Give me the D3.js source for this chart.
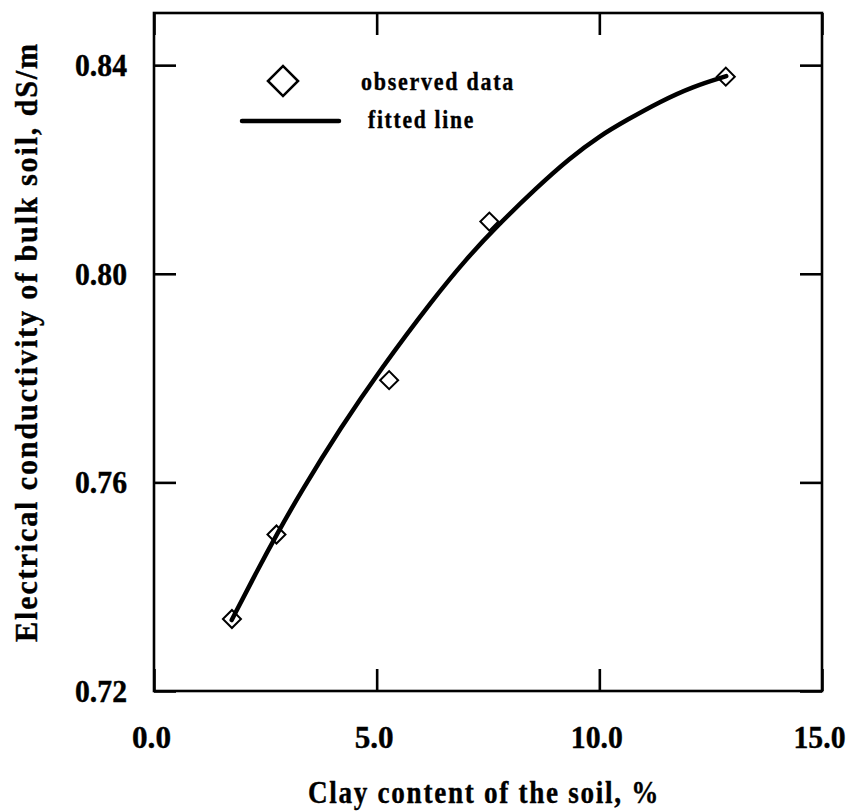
<!DOCTYPE html>
<html>
<head>
<meta charset="utf-8">
<script src="https://cdn.jsdelivr.net/npm/d3@7"></script>
<style>
  body { margin: 0; background: #fff; }
  svg { display: block; }
  text { font-family: "Liberation Serif", "Times New Roman", serif; font-weight: bold; fill: #000; stroke: #000; stroke-width: 0.4px; }
</style>
</head>
<body>
<svg id="chart" width="850" height="811"></svg>
<script>
// observed points
const clayObs = [1.75, 2.75, 5.28, 7.53, 12.84];
const ecObs = [0.7338, 0.75, 0.7796, 0.81, 0.8378];

// fitted curve
const clayFit = [1.745, 2.3, 2.755, 3.3, 4.2, 5.08, 6.27, 7.03, 7.66, 8.6, 9.34, 10.0, 10.62, 11.36, 12.1, 12.85];
const ecFit = [0.7336, 0.7428, 0.75, 0.7582, 0.7706, 0.7816, 0.7952, 0.803, 0.8088, 0.8166, 0.8222, 0.8264, 0.8295, 0.833, 0.8359, 0.8379];

const xTicks = [0, 5, 10, 15];
const yTicks = [0.72, 0.76, 0.8, 0.84];
const xTitle = "Clay content of the soil, %";
const yTitle = "Electrical conductivity of bulk soil, dS/m";
const legendLabels = ["observed data", "fitted line"];

let plotLeft = 154, plotRight = 822, plotTop = 13, plotBottom = 691;
let tickLen = 22;

const svg = d3.select("#chart");

const x = d3.scaleLinear().domain([0, 15]).range([plotLeft, plotRight]);
const y = d3.scaleLinear().domain([0.72, 0.85]).range([plotBottom, plotTop]);

// frame
svg.append("rect")
  .attr("x", plotLeft).attr("y", plotTop)
  .attr("width", plotRight - plotLeft).attr("height", plotBottom - plotTop)
  .attr("fill", "none").attr("stroke", "#000").attr("stroke-width", 2.6);

/* axes, ticks pointing inward */
const xAxis = d3.axisBottom(x).tickValues(xTicks).tickFormat(d3.format(".1f"))
  .tickSize(-tickLen).tickPadding(34);
const gx = svg.append("g").attr("transform", `translate(0,${plotBottom})`).call(xAxis);

const yAxis = d3.axisLeft(y).tickValues(yTicks).tickFormat(d3.format(".2f"))
  .tickSize(-tickLen).tickPadding(27);
svg.append("g").attr("transform", `translate(${plotLeft},0)`).call(yAxis);

svg.append("g").attr("transform", `translate(0,${plotTop})`)
  .call(d3.axisTop(x).tickValues(xTicks).tickSize(-tickLen).tickFormat(""));
svg.append("g").attr("transform", `translate(${plotRight},0)`)
  .call(d3.axisRight(y).tickValues(yTicks).tickSize(-tickLen).tickFormat(""));

svg.selectAll(".domain").remove();
svg.selectAll(".tick line").attr("stroke", "#000").attr("stroke-width", 2.6);
svg.selectAll(".tick text")
  .style("font-family", '"Liberation Serif", serif')
  .style("font-weight", "bold")
  .style("font-size", "32px")
  .attr("fill", "#000")
  .attr("textLength", function () { return this.textContent.length * 13; })
  .attr("lengthAdjust", "spacingAndGlyphs");
gx.selectAll(".tick text").attr("dx", -3);

// axis titles
svg.append("text")
  .attr("x", (plotLeft + plotRight) / 2 - 4).attr("y", 803)
  .attr("text-anchor", "middle")
  .style("font-size", "32px").style("letter-spacing", "2px")
  .attr("textLength", 352).attr("lengthAdjust", "spacingAndGlyphs")
  .text(xTitle);

svg.append("text")
  .attr("transform", `translate(37,${(plotTop + plotBottom) / 2 - 10}) rotate(-90)`)
  .attr("text-anchor", "middle")
  .style("font-size", "32px").style("letter-spacing", "2px")
  .attr("textLength", 600).attr("lengthAdjust", "spacingAndGlyphs")
  .text(yTitle);

// fitted line
const fitData = clayFit.map((c, i) => ({ c: c, v: ecFit[i] }));
const line = d3.line().x(d => x(d.c)).y(d => y(d.v)).curve(d3.curveBasis);
svg.append("path")
  .attr("d", line(fitData))
  .attr("fill", "none").attr("stroke", "#000").attr("stroke-width", 4.5)
  .attr("stroke-linecap", "round");

// observed diamonds
const diamond = d3.symbol().type(d3.symbolSquare).size(162);
svg.append("g").selectAll("path")
  .data(clayObs.map((c, i) => ({ c: c, v: ecObs[i] })))
  .join("path")
  .attr("d", diamond)
  .attr("transform", d => `translate(${x(d.c)},${y(d.v)}) rotate(45)`)
  .attr("fill", "none").attr("stroke", "#000").attr("stroke-width", 2);

// legend
const legend = svg.append("g");
legend.append("path")
  .attr("d", d3.symbol().type(d3.symbolSquare).size(450))
  .attr("transform", "translate(283,81) rotate(45)")
  .attr("fill", "none").attr("stroke", "#000").attr("stroke-width", 2.6);
legend.append("line")
  .attr("x1", 242).attr("x2", 339).attr("y1", 121).attr("y2", 121)
  .attr("stroke", "#000").attr("stroke-width", 4.5).attr("stroke-linecap", "round");
legend.append("text")
  .attr("x", 361).attr("y", 90)
  .style("font-size", "25px").style("letter-spacing", "2px")
  .attr("textLength", 154).attr("lengthAdjust", "spacingAndGlyphs")
  .text(legendLabels[0]);
legend.append("text")
  .attr("x", 368).attr("y", 128)
  .style("font-size", "25px").style("letter-spacing", "2px")
  .attr("textLength", 107).attr("lengthAdjust", "spacingAndGlyphs")
  .text(legendLabels[1]);
</script>
</body>
</html>
